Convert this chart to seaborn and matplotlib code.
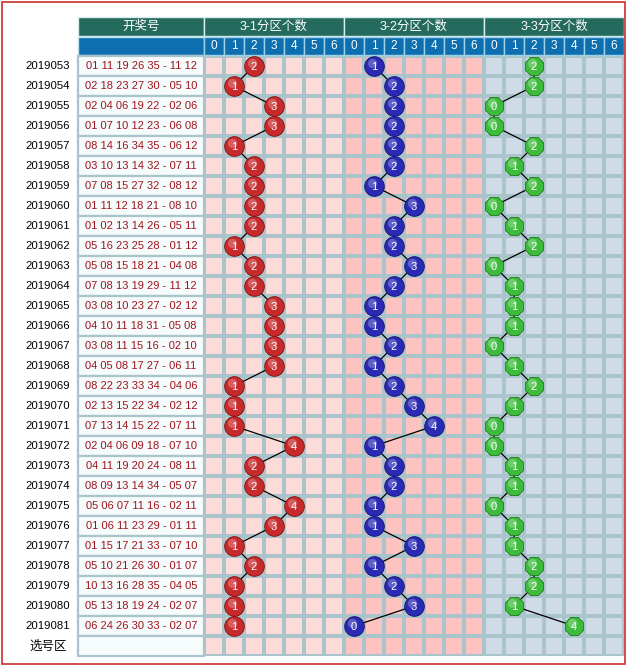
import numpy as np
import pandas as pd
import matplotlib
matplotlib.use("Agg")
import matplotlib.pyplot as plt
import seaborn as sns
from matplotlib.colors import ListedColormap
from matplotlib.patches import Rectangle

# ---------------- data ----------------
issues = [f"2019{n:03d}" for n in range(53, 82)]
draws = [
    "01 11 19 26 35 - 11 12", "02 18 23 27 30 - 05 10", "02 04 06 19 22 - 02 06",
    "01 07 10 12 23 - 06 08", "08 14 16 34 35 - 06 12", "03 10 13 14 32 - 07 11",
    "07 08 15 27 32 - 08 12", "01 11 12 18 21 - 08 10", "01 02 13 14 26 - 05 11",
    "05 16 23 25 28 - 01 12", "05 08 15 18 21 - 04 08", "07 08 13 19 29 - 11 12",
    "03 08 10 23 27 - 02 12", "04 10 11 18 31 - 05 08", "03 08 11 15 16 - 02 10",
    "04 05 08 17 27 - 06 11", "08 22 23 33 34 - 04 06", "02 13 15 22 34 - 02 12",
    "07 13 14 15 22 - 07 11", "02 04 06 09 18 - 07 10", "04 11 19 20 24 - 08 11",
    "08 09 13 14 34 - 05 07", "05 06 07 11 16 - 02 11", "01 06 11 23 29 - 01 11",
    "01 15 17 21 33 - 07 10", "05 10 21 26 30 - 01 07", "10 13 16 28 35 - 04 05",
    "05 13 18 19 24 - 02 07", "06 24 26 30 33 - 02 07",
]
zone1 = [2, 1, 3, 3, 1, 2, 2, 2, 2, 1, 2, 2, 3, 3, 3, 3, 1, 1, 1, 4, 2, 2, 4, 3, 1, 2, 1, 1, 1]
zone2 = [1, 2, 2, 2, 2, 2, 1, 3, 2, 2, 3, 2, 1, 1, 2, 1, 2, 3, 4, 1, 2, 2, 1, 1, 3, 1, 2, 3, 0]
zone3 = [2, 2, 0, 0, 2, 1, 2, 0, 1, 2, 0, 1, 1, 1, 0, 1, 2, 1, 0, 0, 1, 1, 0, 1, 1, 2, 2, 1, 4]
zone_titles = ["3-1分区个数", "3-2分区个数", "3-3分区个数"]
count_labels = ["0", "1", "2", "3", "4", "5", "6"]
header_left = "开奖号"
pick_label = "选号区"

# ---------------- style ----------------
sns.set_theme(style="white")
plt.rcParams["font.family"] = ["Liberation Sans", "Noto Sans CJK SC", "DejaVu Sans"]

ball_colors = {0: "#c8292b", 1: "#2a2ab4", 2: "#3dbb3a"}
ball_edges = {0: "#7a1010", 1: "#12126e", 2: "#1f7a1c"}
ball_markers = {0: "o", 1: "o", 2: "8"}
grid_col = "#a9c5cb"
teal = "#246b5e"
blue = "#0d6fb0"

W, H = 628, 666
fig = plt.figure(figsize=(W / 100, H / 100), dpi=100)
fig.patch.set_facecolor("white")
ax = fig.add_axes([204 / W, 10 / H, 420 / W, 600 / H])

n_rows = len(issues) + 1
ncol = 7 * len(zone_titles)

# background cells via heatmap
bg = np.tile(np.repeat(np.arange(len(zone_titles)), len(count_labels)), (n_rows, 1))
sns.heatmap(bg, cmap=ListedColormap(["#fcdcd8", "#fdc3c0", "#cfdbe6"]), cbar=False,
            linewidths=1.6, linecolor=grid_col, ax=ax,
            xticklabels=False, yticklabels=False)
ax.set_xlim(0, ncol)
ax.set_ylim(n_rows, 0)

# long-form frame
recs = []
for zi, vals in enumerate([zone1, zone2, zone3]):
    for r, v in enumerate(vals):
        recs.append(dict(zone=zi, row=r, count=v))
df = pd.DataFrame(recs)
df["x"] = df["zone"] * 7 + df["count"] + 0.5
df["y"] = df["row"] + 0.5

for zi in range(len(zone_titles)):
    sub = df[df["zone"] == zi]
    sns.lineplot(data=sub, x="x", y="y", sort=False, estimator=None,
                 color="black", lw=0.9, ax=ax, zorder=3)
    sns.scatterplot(data=sub, x="x", y="y", color=ball_colors[zi], s=200,
                    marker=ball_markers[zi], edgecolor=ball_edges[zi],
                    linewidth=0.6, legend=False, ax=ax, zorder=4)
    hl = sub.assign(x=sub["x"] - 0.1, y=sub["y"] - 0.14)
    sns.scatterplot(data=hl, x="x", y="y", color="white", s=45, alpha=0.25,
                    linewidth=0, legend=False, ax=ax, zorder=5)
    for _, rr in sub.iterrows():
        ax.text(rr["x"], rr["y"] + 0.04, str(int(rr["count"])), ha="center",
                va="center", color="white", fontsize=8, zorder=6)

ax.set_xlabel("")
ax.set_ylabel("")
ax.set_xticks([])
ax.set_yticks([])

# header rows
ax.add_patch(Rectangle((-6.3, -1.95), 6.3, 0.95, fc=teal, ec="#d8eeee", lw=1.0, clip_on=False))
ax.text(-3.15, -1.45, header_left, ha="center", va="center", color="white", fontsize=9, clip_on=False)
ax.add_patch(Rectangle((-6.3, -0.97), 6.3, 0.93, fc=blue, ec="#bfe3ef", lw=1.0, clip_on=False))
for g, title in enumerate(zone_titles):
    ax.add_patch(Rectangle((g * 7, -1.95), 7, 0.95, fc=teal, ec="#d8eeee", lw=1.0, clip_on=False))
    ax.text(g * 7 + 3.5, -1.45, title, ha="center", va="center", color="white",
            fontsize=9, clip_on=False)
    for c, lab in enumerate(count_labels):
        ax.add_patch(Rectangle((g * 7 + c, -0.97), 1, 0.93, fc=blue, ec="#9fd2e6",
                               lw=1.0, clip_on=False))
        ax.text(g * 7 + c + 0.5, -0.5, lab, ha="center", va="center", color="white",
                fontsize=8.5, clip_on=False)

# left columns
for r in range(n_rows):
    ax.add_patch(Rectangle((-6.3, r), 6.3, 1, fc="#f6fbfb", ec=grid_col, lw=1.6,
                           clip_on=False, zorder=1))
    label = issues[r] if r < len(issues) else pick_label
    ax.text(-7.8, r + 0.52, label, ha="center", va="center", color="black",
            fontsize=8.2 if r < len(issues) else 9, clip_on=False)
    if r < len(draws):
        ax.text(-3.15, r + 0.52, draws[r], ha="center", va="center", color="#a0141e",
                fontsize=8, clip_on=False)

# outer red frame
fig.add_artist(Rectangle((1.5 / W, 2 / H), 623.5 / W, 662 / H, transform=fig.transFigure,
                         fill=False, ec="#c8302f", lw=1.2))

fig.savefig("out.png", dpi=100)
